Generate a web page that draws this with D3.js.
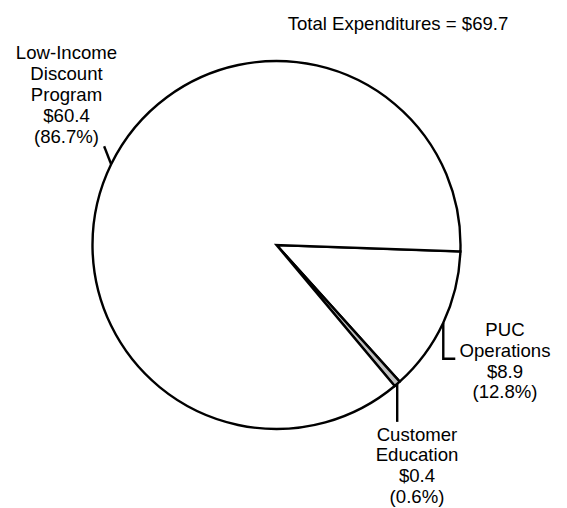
<!DOCTYPE html>
<html>
<head>
<meta charset="utf-8">
<script src="https://cdn.jsdelivr.net/npm/d3@7"></script>
<style>
  html, body { margin: 0; padding: 0; background: #fff; }
  svg { display: block; font-family: "Liberation Sans", Arial, sans-serif; }
</style>
</head>
<body>
<div id="chart"></div>
<script>
// values in $ millions
const categories = ['PUC Operations', 'Customer Education', 'Low-Income Discount Program'];
const amounts = [8.9, 0.4, 60.4];
const shares = ['12.8%', '0.6%', '86.7%'];
const labelLines = [
  ['PUC', 'Operations'],
  ['Customer', 'Education'],
  ['Low-Income', 'Discount', 'Program']
];
const fills = ['#ffffff', '#c0c0c0', '#ffffff'];
const total = 69.7;

const width = 567, height = 508;
const cx = 276.5, cy = 245, radius = 184;
const lineH = 20.8;
const fontSize = 18.6;

// label placement: text centre / first baseline, plus leader path relative to arc point
const labelPos = [
  { x: 505, y: 336, leader: [[0, 0], [0, 36], [12, 36]] },
  { x: 417, y: 440.5, leader: [[0, 0], [0, 38]] },
  { x: 66.5, y: 59.3, leader: [[0, 0], [-7, -18]] }
];

const svg = d3.select('#chart')
  .append('svg')
  .attr('width', width)
  .attr('height', height);

svg.append('text')
  .attr('x', 398)
  .attr('y', 29.5)
  .attr('text-anchor', 'middle')
  .attr('font-size', fontSize)
  .attr('fill', '#000')
  .text(`Total Expenditures = $${total}`);

const pie = d3.pie()
  .sort(null)
  .startAngle(92 * Math.PI / 180)
  .endAngle(92 * Math.PI / 180 + 2 * Math.PI);

const arc = d3.arc().innerRadius(0).outerRadius(radius);

const arcs = pie(amounts);

const g = svg.append('g').attr('transform', `translate(${cx},${cy})`);

g.selectAll('path.slice')
  .data(arcs)
  .join('path')
  .attr('class', 'slice')
  .attr('d', arc)
  .attr('fill', (d, i) => fills[i])
  .attr('stroke', '#000')
  .attr('stroke-width', 2.4)
  .attr('stroke-linejoin', 'miter');

// leader lines from the middle of each slice's outer edge
const line = d3.line();
g.selectAll('path.leader')
  .data(arcs)
  .join('path')
  .attr('class', 'leader')
  .attr('d', (d, i) => {
    const a = (d.startAngle + d.endAngle) / 2;
    const px = radius * Math.sin(a), py = -radius * Math.cos(a);
    return line(labelPos[i].leader.map(p => [px + p[0], py + p[1]]));
  })
  .attr('fill', 'none')
  .attr('stroke', '#000')
  .attr('stroke-width', 2.4);

const labels = svg.selectAll('text.lbl')
  .data(arcs)
  .join('text')
  .attr('class', 'lbl')
  .attr('text-anchor', 'middle')
  .attr('font-size', fontSize)
  .attr('fill', '#000');

labels.each(function(d, i) {
  const lines = [...labelLines[i], `$${amounts[i]}`, `(${shares[i]})`];
  d3.select(this).selectAll('tspan')
    .data(lines)
    .join('tspan')
    .attr('x', labelPos[i].x)
    .attr('y', (t, j) => labelPos[i].y + j * lineH)
    .text(t => t);
});
</script>
</body>
</html>
